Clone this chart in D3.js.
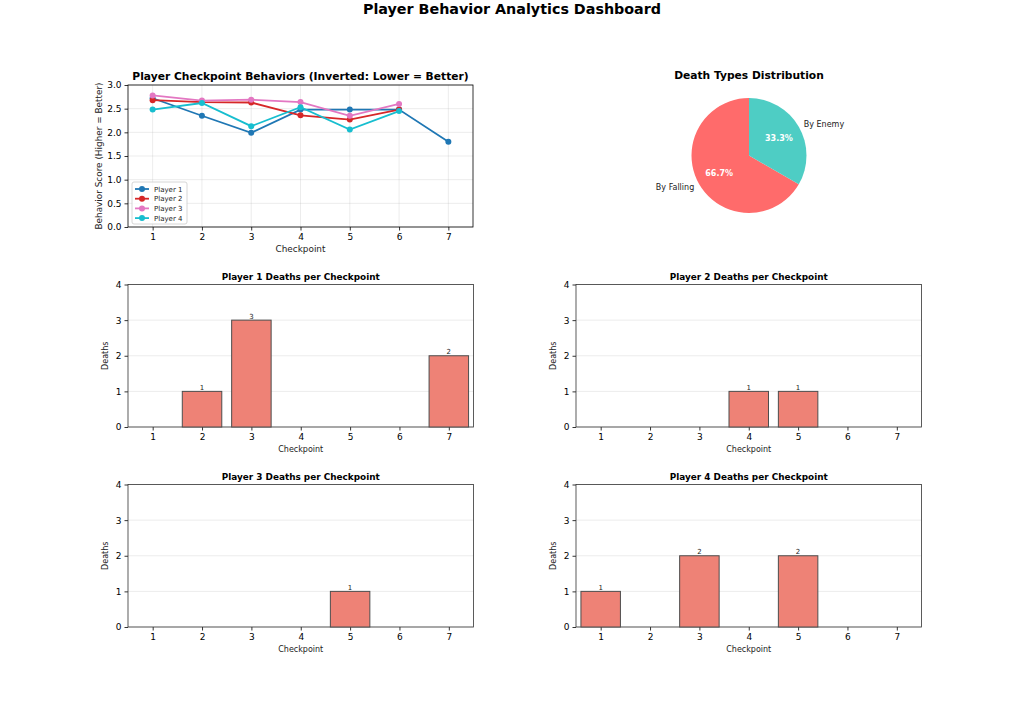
<!doctype html>
<html lang="en">
<head>
<meta charset="UTF-8">
<title>Player Behavior Analytics Dashboard</title>
<style>
    body { margin: 0; background: #fff; }
    svg { font-family: "DejaVu Sans", sans-serif; }
    .tick text { fill: #000; }
</style>
</head>
<body>
<div class="canvas"></div>
<script src="https://d3js.org/d3.v7.min.js"></script>
<script>
    const checkpoints = [1, 2, 3, 4, 5, 6, 7];
    const players = ['Player 1', 'Player 2', 'Player 3', 'Player 4'];
    const playerColors = ['#1f77b4', '#d62728', '#e377c2', '#17becf'];

    // behaviour scores per checkpoint (null = not reached)
    const scoresP1 = [2.72, 2.35, 1.99, 2.48, 2.48, 2.48, 1.80];
    const scoresP2 = [2.68, 2.64, 2.63, 2.36, 2.27, 2.48, null];
    const scoresP3 = [2.78, 2.67, 2.69, 2.64, 2.35, 2.60, null];
    const scoresP4 = [2.48, 2.62, 2.13, 2.53, 2.06, 2.45, null];
    const scoreTicks = [0, 0.5, 1, 1.5, 2, 2.5, 3];

    const deathsP1 = [0, 1, 3, 0, 0, 0, 2];
    const deathsP2 = [0, 0, 0, 1, 1, 0, 0];
    const deathsP3 = [0, 0, 0, 0, 1, 0, 0];
    const deathsP4 = [1, 0, 2, 0, 2, 0, 0];
    const deathTicks = [0, 1, 2, 3, 4];

    const deathTypes = ['By Falling', 'By Enemy'];
    const deathTypeCounts = [6, 3];
    const deathTypeColors = ['#ff6b6b', '#4ecdc4'];

    const svgWidth = 1024;
    const svgHeight = 704;

    const svg = d3.select('.canvas').append('svg')
        .attr('width', svgWidth)
        .attr('height', svgHeight);

    svg.append('text')
        .attr('x', 512).attr('y', 14)
        .attr('text-anchor', 'middle')
        .attr('font-size', 14.3).attr('font-weight', 'bold')
        .text('Player Behavior Analytics Dashboard');

    // common axes frame helper
    const makeFrame = (left, top, width, height, yDomain, yTicks, yFmt, opts) => {
        const g = svg.append('g').attr('transform', `translate(${left}, ${top})`);
        const x = d3.scaleLinear().domain([0.5, 7.5]).range([0, width]);
        const y = d3.scaleLinear().domain(yDomain).range([height, 0]);

        // grid
        if (opts.xGrid) {
            g.append('g').selectAll('line').data(checkpoints).join('line')
                .attr('x1', d => x(d)).attr('x2', d => x(d))
                .attr('y1', 0).attr('y2', height)
                .attr('stroke', '#b0b0b0').attr('stroke-opacity', 0.3).attr('stroke-width', 0.8);
        }
        g.append('g').selectAll('line').data(yTicks).join('line')
            .attr('x1', 0).attr('x2', width)
            .attr('y1', d => y(d)).attr('y2', d => y(d))
            .attr('stroke', '#b0b0b0').attr('stroke-opacity', 0.3).attr('stroke-width', 0.8);

        const xAxis = g.append('g').attr('transform', `translate(0, ${height})`)
            .call(d3.axisBottom(x).tickValues(checkpoints).tickSize(3.5).tickPadding(3).tickFormat(d3.format('d')));
        const yAxis = g.append('g')
            .call(d3.axisLeft(y).tickValues(yTicks).tickSize(3.5).tickPadding(3).tickFormat(yFmt));
        [xAxis, yAxis].forEach(a => {
            a.select('.domain').remove();
            a.selectAll('text').attr('font-size', opts.tickSize).attr('font-family', '"DejaVu Sans", sans-serif');
            a.selectAll('line').attr('stroke', '#000').attr('stroke-width', 0.8);
        });

        g.append('rect')
            .attr('width', width).attr('height', height)
            .attr('fill', 'none').attr('stroke', opts.frameColor).attr('stroke-width', 0.8);

        g.append('text')
            .attr('x', width / 2).attr('y', -5)
            .attr('text-anchor', 'middle')
            .attr('font-size', opts.titleSize).attr('font-weight', 'bold')
            .text(opts.title);
        g.append('text')
            .attr('x', width / 2).attr('y', height + 25)
            .attr('text-anchor', 'middle')
            .attr('font-size', opts.labelSize)
            .attr('fill', '#222')
            .text('Checkpoint');
        g.append('text')
            .attr('transform', `translate(${opts.yLabelX}, ${height / 2}) rotate(-90)`)
            .attr('text-anchor', 'middle')
            .attr('font-size', opts.labelSize)
            .attr('fill', '#222')
            .text(opts.yLabel);

        return { g, x, y };
    };

    // ---- line chart
    const lineAx = makeFrame(128, 85, 345, 142, [0, 3], scoreTicks, d3.format('.1f'), {
        xGrid: true, tickSize: 9, titleSize: 10.7, labelSize: 8.9, frameColor: '#000',
        title: 'Player Checkpoint Behaviors (Inverted: Lower = Better)',
        yLabel: 'Behavior Score (Higher = Better)', yLabelX: -26
    });
    const allScores = [scoresP1, scoresP2, scoresP3, scoresP4];
    const line = d3.line()
        .x(d => lineAx.x(d.c))
        .y(d => lineAx.y(d.v));
    allScores.forEach((s, i) => {
        const pts = s.map((v, j) => ({ c: checkpoints[j], v })).filter(d => d.v !== null);
        lineAx.g.append('path')
            .datum(pts)
            .attr('d', line)
            .attr('fill', 'none')
            .attr('stroke', playerColors[i])
            .attr('stroke-width', 1.8);
        lineAx.g.append('g').selectAll('circle').data(pts).join('circle')
            .attr('cx', d => lineAx.x(d.c)).attr('cy', d => lineAx.y(d.v))
            .attr('r', 3).attr('fill', playerColors[i]);
    });

    // legend
    const legend = lineAx.g.append('g').attr('transform', 'translate(4, 97)');
    legend.append('rect')
        .attr('width', 55).attr('height', 42).attr('rx', 2)
        .attr('fill', '#fff').attr('fill-opacity', 0.8)
        .attr('stroke', '#ccc').attr('stroke-width', 0.8);
    players.forEach((p, i) => {
        const ly = 7 + i * 9.7;
        legend.append('line')
            .attr('x1', 3).attr('x2', 17).attr('y1', ly).attr('y2', ly)
            .attr('stroke', playerColors[i]).attr('stroke-width', 1.8);
        legend.append('circle').attr('cx', 10).attr('cy', ly).attr('r', 3).attr('fill', playerColors[i]);
        legend.append('text')
            .attr('x', 22).attr('y', ly + 2.5)
            .attr('font-size', 7).attr('fill', '#222')
            .text(p);
    });

    // ---- pie chart
    svg.append('text')
        .attr('x', 749).attr('y', 79)
        .attr('text-anchor', 'middle')
        .attr('font-size', 10.7).attr('font-weight', 'bold')
        .text('Death Types Distribution');

    const pieG = svg.append('g').attr('transform', 'translate(749, 155.5)');
    const radius = 57.5;
    const total = d3.sum(deathTypeCounts);
    // start at 12 o'clock, first slice goes counter-clockwise
    const pie = d3.pie().sort(null)
        .startAngle(0).endAngle(-2 * Math.PI);
    const arcs = pie(deathTypeCounts);
    const arc = d3.arc().innerRadius(0).outerRadius(radius);
    pieG.selectAll('path').data(arcs).join('path')
        .attr('d', arc)
        .attr('fill', (d, i) => deathTypeColors[i]);

    const pctArc = d3.arc().innerRadius(radius * 0.6).outerRadius(radius * 0.6);
    const lblArc = d3.arc().innerRadius(radius * 1.1).outerRadius(radius * 1.1);
    pieG.selectAll('.pct').data(arcs).join('text')
        .attr('class', 'pct')
        .attr('transform', d => `translate(${pctArc.centroid(d)})`)
        .attr('text-anchor', 'middle').attr('dy', '0.35em')
        .attr('font-size', 8).attr('font-weight', 'bold').attr('fill', '#fff')
        .text(d => d3.format('.1f')(d.value / total * 100) + '%');
    pieG.selectAll('.lbl').data(arcs).join('text')
        .attr('class', 'lbl')
        .attr('transform', d => `translate(${lblArc.centroid(d)})`)
        .attr('text-anchor', d => lblArc.centroid(d)[0] < 0 ? 'end' : 'start')
        .attr('dy', '0.35em')
        .attr('font-size', 8).attr('fill', '#222')
        .text((d, i) => deathTypes[i]);

    // ---- death bar charts
    const allDeaths = [deathsP1, deathsP2, deathsP3, deathsP4];
    const barPos = [[128, 284.5], [576, 284.5], [128, 484.5], [576, 484.5]];
    allDeaths.forEach((deaths, i) => {
        const ax = makeFrame(barPos[i][0], barPos[i][1], 345.5, 142.5, [0, 4], deathTicks, d3.format('d'), {
            xGrid: false, tickSize: 9, titleSize: 8.9, labelSize: 8, frameColor: '#333',
            title: `${players[i]} Deaths per Checkpoint`,
            yLabel: 'Deaths', yLabelX: -20
        });
        const bw = ax.x(1.8) - ax.x(1);
        const bars = deaths.map((v, j) => ({ c: checkpoints[j], v }));
        ax.g.append('g').selectAll('rect').data(bars).join('rect')
            .attr('x', d => ax.x(d.c) - bw / 2)
            .attr('y', d => ax.y(d.v))
            .attr('width', bw)
            .attr('height', d => ax.y(0) - ax.y(d.v))
            .attr('fill', '#ee8276')
            .attr('stroke', '#4d4d4d').attr('stroke-width', 1);
        ax.g.append('g').selectAll('text').data(bars.filter(d => d.v > 0)).join('text')
            .attr('x', d => ax.x(d.c))
            .attr('y', d => ax.y(d.v) - 1.5)
            .attr('text-anchor', 'middle')
            .attr('font-size', 7).attr('fill', '#222')
            .text(d => d.v);
    });
</script>
</body>
</html>
